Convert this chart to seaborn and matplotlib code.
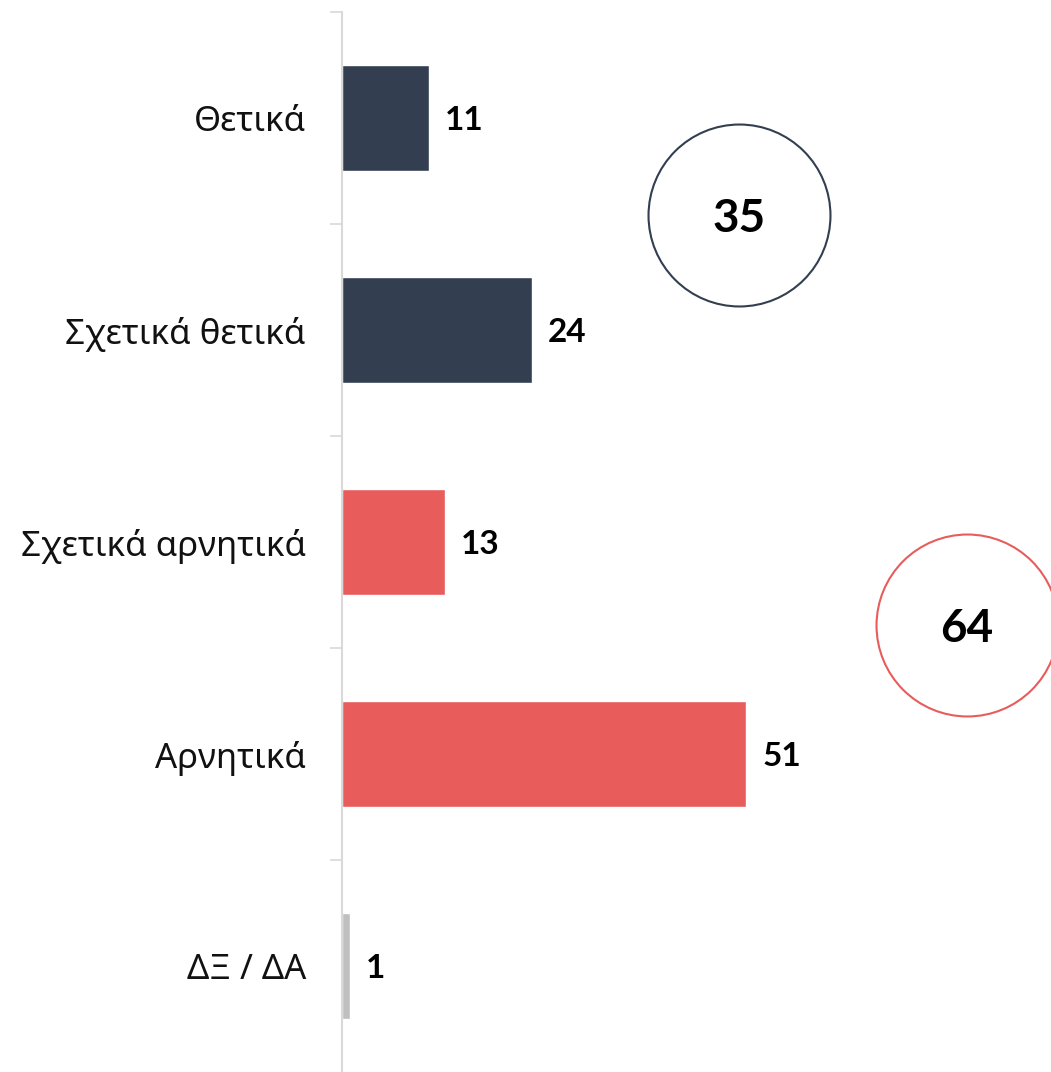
import pandas as pd
import matplotlib.pyplot as plt
import seaborn as sns

# data
categories = ['Θετικά', 'Σχετικά θετικά', 'Σχετικά αρνητικά', 'Αρνητικά', 'ΔΞ / ΔΑ']
values = [11, 24, 13, 51, 1]
bar_colors = ['#333F50', '#333F50', '#E85C5C', '#E85C5C', '#BFBFBF']

positive_total = 35
negative_total = 64

df = pd.DataFrame({'cat': categories, 'val': values})

sns.set_style('white')
plt.rcParams['font.family'] = ['Noto Sans', 'DejaVu Sans']
num_font = ['Lato', 'DejaVu Sans']

fig = plt.figure(figsize=(10.51, 10.72), dpi=100)
ax = fig.add_axes([342 / 1051, 0.0, 709 / 1051, 1060 / 1072])

sns.barplot(data=df, x='val', y='cat', hue='cat', palette=bar_colors,
            width=0.5, legend=False, ax=ax, saturation=1)

ax.set_xlim(0, 89.4)
ax.set_ylim(4.5, -0.5)
ax.set_xlabel('')
ax.set_ylabel('')
ax.set_xticks([])

# ticks between categories, labels at the category centres
ax.set_yticks([i - 0.5 for i in range(len(categories))], minor=False)
ax.set_yticklabels([])
ax.set_yticks(range(len(categories)), minor=True)
ax.set_yticklabels(categories, minor=True, fontsize=25, color='#111111')
ax.tick_params(axis='y', which='major', length=9, width=1.2, color='#D9D9D9', left=True)
ax.tick_params(axis='y', which='minor', length=0, pad=26)

for s in ['top', 'right', 'bottom']:
    ax.spines[s].set_visible(False)
ax.spines['left'].set_color('#D9D9D9')
ax.spines['left'].set_linewidth(1.5)

# value labels
for i, v in enumerate(values):
    ax.text(v + 2.0, i, str(v), va='center_baseline', ha='left', fontsize=24,
            fontweight='bold', color='black', family=num_font)

# total circles
ax.scatter([50.1], [0.456], s=17161, facecolors='white', edgecolors='#333F50',
           linewidths=1.5, clip_on=False, zorder=3)
ax.text(50.1, 0.456, str(positive_total), ha='center', va='center_baseline',
        fontsize=33, fontweight='bold', color='black', zorder=4, family=num_font)
ax.scatter([78.8], [2.39], s=17161, facecolors='white', edgecolors='#E85C5C',
           linewidths=1.5, clip_on=False, zorder=3)
ax.text(78.8, 2.39, str(negative_total), ha='center', va='center_baseline',
        fontsize=33, fontweight='bold', color='black', zorder=4, family=num_font)

plt.savefig('out.png', dpi=100)
